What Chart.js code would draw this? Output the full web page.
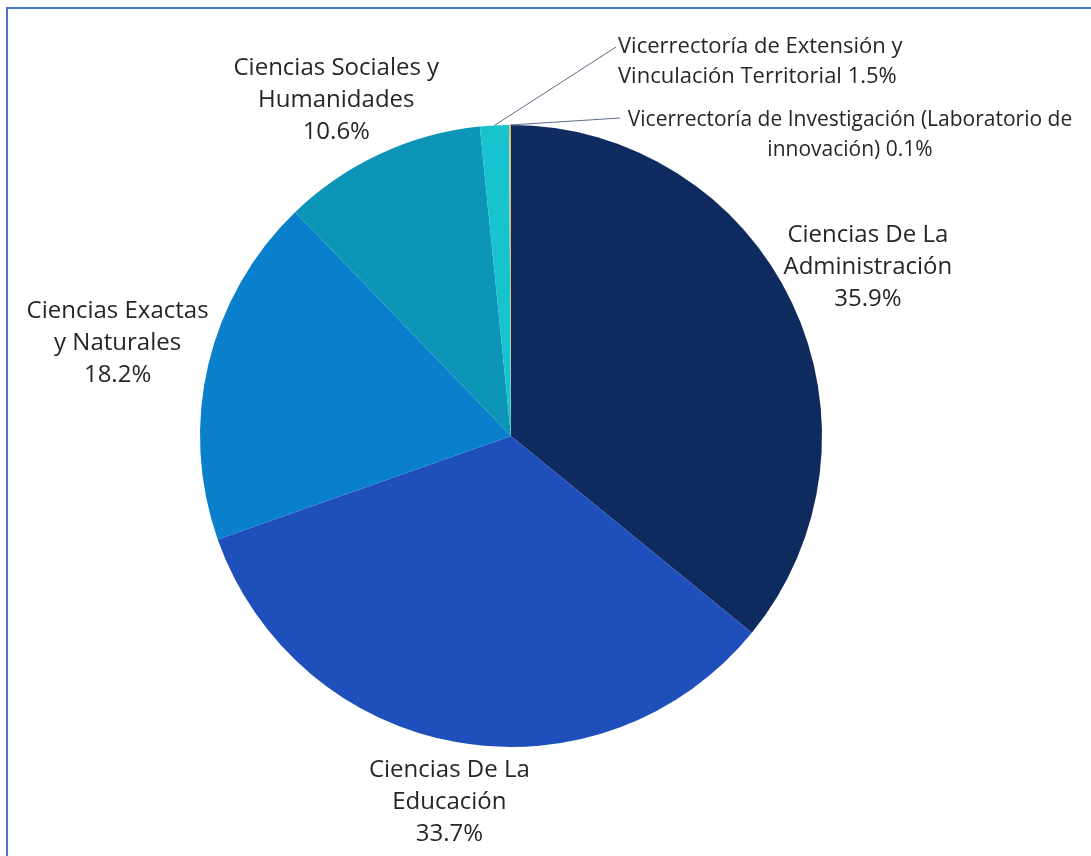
<!DOCTYPE html>
<html>
<head>
<meta charset="utf-8">
<script src="https://cdn.jsdelivr.net/npm/chart.js@4.4.0/dist/chart.umd.min.js"></script>
<style>
  html, body { margin: 0; padding: 0; background: #ffffff; overflow: hidden; }
  #wrap { position: relative; width: 1091px; height: 856px; }
  #frame { position: absolute; left: 6px; top: 7px; width: 2000px; height: 2000px;
           border-top: 2px solid #4a76c8; border-left: 2px solid #4a76c8; box-sizing: border-box; }
  canvas { position: absolute; left: 0; top: 0; }
</style>
</head>
<body>
<div id="wrap">
  <div id="frame"></div>
  <canvas id="c" width="1091" height="856"></canvas>
</div>
<script>
// ---- data ----
const categories = [
  "Ciencias De La\nAdministración",
  "Ciencias De La\nEducación",
  "Ciencias Exactas\ny Naturales",
  "Ciencias Sociales y\nHumanidades",
  "Vicerrectoría de Extensión y\nVinculación Territorial",
  "Vicerrectoría de Investigación (Laboratorio de\ninnovación)"
];
const shares = [35.9, 33.7, 18.2, 10.6, 1.5, 0.1];
const sliceColors = ["#0f2a5f", "#1e4fba", "#0a7fcc", "#0c95b7", "#17c3cc", "#d9be73"];

// ---- label placement (styling/layout only) ----
const labelLayout = [
  { mode: "radial", dist: 1.27, shift: [0, 0], size: 24 },
  { mode: "radial", dist: 1.19, shift: [2, 2], size: 24 },
  { mode: "radial", dist: 1.30, shift: [0, 0], size: 24 },
  { mode: "radial", dist: 1.23, shift: [-14, 11], size: 24 },
  { mode: "leader", dx: 107, dy: -389, align: "left",   end: [105, -389], size: 22 },
  { mode: "leader", dx: 339, dy: -316, align: "center", end: [109, -318], size: 21 }
];

const labelPlugin = {
  id: "pieLabels",
  afterDatasetsDraw(chart) {
    const ctx = chart.ctx;
    const meta = chart.getDatasetMeta(0);
    const ds = chart.data.datasets[0];
    meta.data.forEach((arc, i) => {
      const p = arc.getProps(["x", "y", "startAngle", "endAngle", "outerRadius"], true);
      const mid = (p.startAngle + p.endAngle) / 2;
      const lay = labelLayout[i];
      const pct = ds.data[i].toFixed(1) + "%";
      const nameLines = chart.data.labels[i].split("\n");
      ctx.save();
      ctx.fillStyle = "#262626";
      ctx.textBaseline = "middle";
      ctx.font = lay.size + 'px "Open Sans"';
      if (lay.mode === "radial") {
        const lines = nameLines.concat([pct]);
        const lh = 32;
        const cx = p.x + Math.cos(mid) * p.outerRadius * lay.dist + lay.shift[0];
        const cy = p.y + Math.sin(mid) * p.outerRadius * lay.dist + lay.shift[1];
        ctx.textAlign = "center";
        const top = cy - (lines.length - 1) * lh / 2;
        lines.forEach((t, k) => ctx.fillText(t, cx, top + k * lh));
      } else {
        const lines = nameLines.slice();
        lines[lines.length - 1] += " " + pct;
        const lh = 30;
        const sx = p.x + Math.cos(mid) * p.outerRadius;
        const sy = p.y + Math.sin(mid) * p.outerRadius;
        ctx.strokeStyle = "#5a6e80";
        ctx.lineWidth = 1;
        ctx.beginPath();
        ctx.moveTo(sx, sy);
        ctx.lineTo(p.x + lay.end[0], p.y + lay.end[1]);
        ctx.stroke();
        const tx = p.x + lay.dx, ty = p.y + lay.dy;
        ctx.textAlign = lay.align;
        lines.forEach((t, k) => ctx.fillText(t, tx, ty + k * lh));
      }
      ctx.restore();
    });
  }
};

new Chart(document.getElementById("c"), {
  type: "pie",
  data: {
    labels: categories,
    datasets: [{
      data: shares,
      backgroundColor: sliceColors,
      borderWidth: 0
    }]
  },
  options: {
    responsive: false,
    animation: false,
    layout: { padding: { left: 200, right: 269, top: 125, bottom: 109 } },
    plugins: {
      legend: { display: false },
      tooltip: { enabled: false },
      title: { display: false }
    }
  },
  plugins: [labelPlugin]
});
</script>
</body>
</html>
